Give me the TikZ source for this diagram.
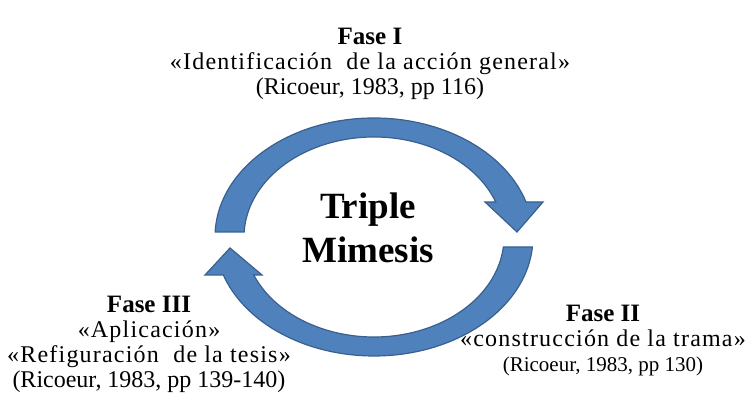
\documentclass[tikz,border=0pt]{standalone}
\usepackage{fontspec}
\setmainfont{Liberation Serif}
\usepackage{tikz}

\definecolor{arrowblue}{RGB}{79,129,189}
\definecolor{arrowedge}{RGB}{58,96,142}

\tikzset{
  fase/.style={align=center, inner sep=0pt, font=\fontsize{12}{12.5}\selectfont},
  flecha/.style={fill=arrowblue, draw=arrowedge, line width=0.6pt},
}
\newcommand{\fase}[1]{{\fontsize{12.5}{12.5}\selectfont\bfseries #1}}
\newcommand{\cita}[1]{{\addfontfeatures{LetterSpace=5}#1}}

\begin{document}
\begin{tikzpicture}[x=0.5pt,y=0.5pt]
\useasboundingbox (0,0) rectangle (756,410);

\begin{scope}[shift={(374,173)}]
\fill[flecha] (177.6:159 and 119) arc[start angle=177.6, end angle=17.1, x radius=159, y radius=119]
  -- (169,35) -- (143,5) -- (111,35)
  -- (20.5:130 and 100) arc[start angle=20.5, end angle=177.1, x radius=130, y radius=100] -- cycle;
\fill[flecha] (-4.8:159 and 119) arc[start angle=-4.8, end angle=-161.4, x radius=159, y radius=119]
  -- (-169,-38) -- (-144,-11) -- (-112,-38)
  -- (-157.7:130 and 100) arc[start angle=-157.7, end angle=-5.7, x radius=130, y radius=100] -- cycle;
\end{scope}

\node (centro) at (368,182) [align=center, font=\fontsize{18.5}{22}\selectfont\bfseries] {Triple\\Mimesis};

\node (fase1) at (370,346) [fase] {\fase{Fase I}\\\cita{«Identificación~~de la acción general»}\\(Ricoeur, 1983, pp 116)};
\node (fase2) at (603,69) [fase] {\fase{Fase II}\\\cita{«construcción de la trama»}\\{\fontsize{10.5}{12.5}\selectfont(Ricoeur, 1983, pp 130)}};
\node (fase3) at (149,66) [fase] {\fase{Fase III}\\\cita{«Aplicación»}\\\cita{«Refiguración~~de la tesis»}\\(Ricoeur, 1983, pp 139-140)};
\end{tikzpicture}
\end{document}
